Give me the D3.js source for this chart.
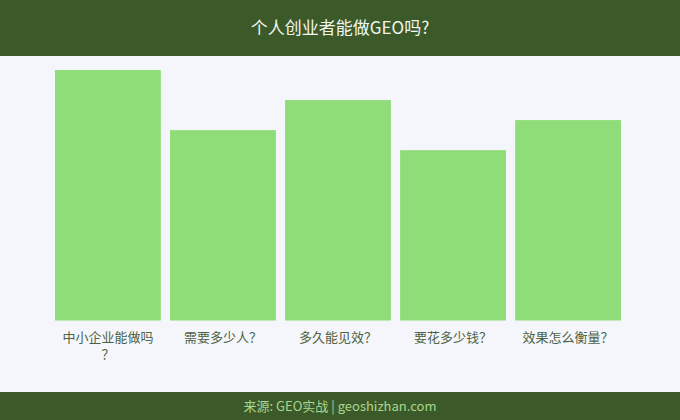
<!DOCTYPE html>
<html><head><meta charset="utf-8">
<script src="https://cdn.jsdelivr.net/npm/d3@7"></script>
<style>body{margin:0;background:#f5f6fb;}svg{display:block;font-family:"Noto Sans CJK SC","Noto Sans",sans-serif;}</style>
</head><body>
<script>
const categories = ["中小企业能做吗？","需要多少人？","多久能见效？","要花多少钱？","效果怎么衡量？"];
const values = [10, 7.6, 8.8, 6.8, 8.0];
const titleText = "个人创业者能做GEO吗?";
const footerText = "来源: GEO实战 | geoshizhan.com";

const W = 680, H = 420;
const svg = d3.select("body").append("svg").attr("width", W).attr("height", H);
svg.append("rect").attr("width", W).attr("height", H).attr("fill", "#f5f6fb");
svg.append("rect").attr("width", W).attr("height", 56).attr("fill", "#3c5a29");
svg.append("text").attr("x", W/2).attr("y", 34).attr("text-anchor", "middle")
  .attr("fill", "#f2f5ee").attr("font-size", 17).text(titleText);
svg.append("rect").attr("y", 392).attr("width", W).attr("height", 28).attr("fill", "#3c5a29");
svg.append("text").attr("x", W/2).attr("y", 411).attr("text-anchor", "middle")
  .attr("fill", "#a9d68f").attr("font-size", 13).text(footerText);

const x = d3.scaleBand().domain(categories).range([55, 621]).paddingInner(0.08).paddingOuter(0);
const y = d3.scaleLinear().domain([0, 10]).range([320.5, 70]);

svg.selectAll("rect.bar").data(categories).join("rect").attr("class", "bar")
  .attr("x", d => x(d)).attr("width", x.bandwidth())
  .attr("y", (d, i) => y(values[i])).attr("height", (d, i) => y(0) - y(values[i]))
  .attr("fill", "#8fdd78");

const ax = svg.append("g").attr("transform", `translate(0,${y(0)})`)
  .call(d3.axisBottom(x).tickSize(0).tickPadding(12));
ax.select(".domain").remove();
ax.selectAll("text").attr("fill", "#4d6343").attr("font-size", 13)
  .attr("font-family", '"Noto Sans CJK SC",sans-serif')
  .each(function(d) {
    const t = d3.select(this);
    const maxW = 100;
    const chars = Array.from(d);
    t.text(null);
    let lines = [], cur = "";
    const tmp = t.append("tspan");
    for (const c of chars) {
      tmp.text(cur + c);
      if (tmp.node().getComputedTextLength() > maxW && cur) { lines.push(cur); cur = c; }
      else cur += c;
    }
    lines.push(cur);
    tmp.remove();
    lines.forEach((l, k) => t.append("tspan").attr("x", 0).attr("dy", k === 0 ? "0.71em" : "1.32em").text(l));
  });
</script>
</body></html>
